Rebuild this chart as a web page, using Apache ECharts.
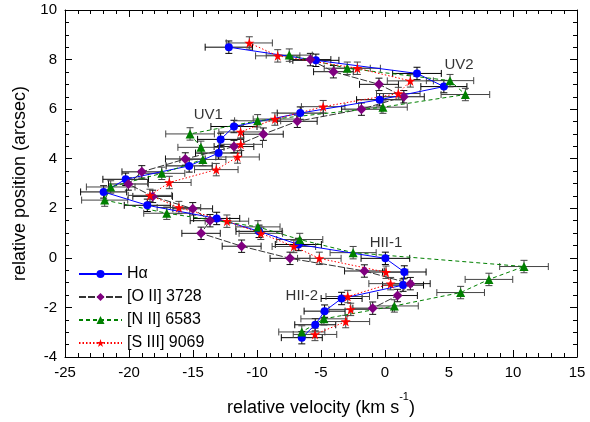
<!DOCTYPE html>
<html><head><meta charset="utf-8">
<script src="https://cdn.jsdelivr.net/npm/echarts@6/dist/echarts.min.js"></script>
<style>html,body{margin:0;padding:0;background:#fff}#c{width:590px;height:422px}</style>
</head><body><div id="c"></div>
<script>
// ---- data ----
const haPos = [8.50, 7.97, 7.44, 6.91, 6.38, 5.84, 5.30, 4.78, 4.23, 3.71, 3.17, 2.66, 2.12, 1.59, 1.07, 0.54, -0.02, -0.57, -1.10, -1.64, -2.15, -2.70, -3.22];
const haVel = [-12.2, -5.4, 2.5, 4.6, -0.42, -6.62, -11.8, -12.84, -13.0, -15.3, -20.26, -21.98, -18.57, -13.15, -9.84, -6.77, 0.03, 1.51, 1.41, -3.39, -4.72, -5.45, -6.5];
const haErr = [1.85, 1.8, 1.9, 1.8, 1.8, 1.8, 1.8, 1.8, 1.8, 1.8, 1.78, 1.8, 1.8, 1.8, 1.8, 1.8, 1.9, 1.7, 1.6, 1.6, 1.6, 1.6, 1.6];

const o2Pos = [8.0, 7.51, 7.0, 6.5, 6.0, 5.51, 4.99, 4.49, 3.99, 3.47, 2.98, 2.48, 1.98, 1.50, 0.99, 0.47, -0.02, -0.53, -1.04, -1.52, -2.03];
const o2Vel = [-5.83, -4.03, -0.47, 1.47, -1.84, -6.85, -9.5, -11.8, -15.6, -19.0, -20.05, -18.15, -15.02, -13.67, -14.37, -11.2, -7.42, -1.61, 1.98, 0.98, -0.96];
const o2Err = [1.6, 1.55, 1.52, 1.6, 1.55, 1.55, 1.55, 1.55, 1.55, 1.55, 1.55, 1.55, 1.55, 1.55, 1.5, 1.52, 1.56, 1.55, 1.55, 1.55, 1.55];

const n2Pos = [8.18, 7.65, 7.15, 6.59, 6.08, 5.53, 5.0, 4.46, 3.97, 3.41, 2.86, 2.33, 1.80, 1.25, 0.74, 0.21, -0.35, -0.87, -1.40, -1.94, -2.46, -2.99];
const n2Vel = [-7.48, -2.95, 5.08, 6.28, -0.16, -9.95, -15.23, -14.38, -14.23, -17.44, -21.43, -21.9, -17.05, -9.93, -6.66, -2.49, 10.86, 8.12, 5.91, 0.73, -4.77, -6.5];
const n2Err = [1.8, 1.8, 1.85, 1.9, 1.9, 1.8, 1.9, 1.8, 1.8, 1.8, 1.9, 1.8, 1.8, 1.73, 1.8, 1.8, 1.9, 1.86, 1.86, 1.87, 1.8, 1.8];

const s3Pos = [8.67, 8.15, 7.65, 7.14, 6.63, 6.10, 5.60, 5.08, 4.58, 4.07, 3.56, 3.04, 2.52, 2.03, 1.48, 0.99, 0.46, -0.02, -0.58, -1.04, -1.56, -2.08, -2.57, -3.09];
const s3Vel = [-10.6, -8.38, -2.16, 1.98, 1.04, -4.83, -8.6, -11.28, -11.27, -11.52, -13.18, -16.85, -18.36, -16.1, -12.35, -9.7, -7.12, -5.13, 0.08, 0.44, -2.91, -2.68, -3.07, -5.47];
const s3Err = [1.8, 1.73, 1.8, 1.8, 1.7, 1.7, 1.7, 1.7, 1.7, 1.7, 1.7, 1.7, 1.7, 1.7, 1.7, 1.7, 1.7, 1.7, 1.7, 1.7, 1.7, 1.7, 1.87, 1.7];

const posErr = 0.25;

const seriesNames = ['H\u03b1', '[O II] 3728', '[N II] 6583', '[S III] 9069'];

const annText = ['UV1', 'UV2', 'HII-1', 'HII-2'];
const annVel = [-13.8, 5.78, 0.08, -6.5];
const annPos = [5.78, 7.78, 0.62, -1.55];

const xTicks = {min: -25, max: 15, step: 5};
const yTicks = {min: -4, max: 10, step: 2};

// ---- build ----
const FONT = 'Liberation Sans, Arial, Helvetica, sans-serif';
const STAR = 'path://M50,0 L61.2,34.5 L97.6,34.5 L68.2,55.9 L79.4,90.5 L50,69.1 L20.6,90.5 L31.8,55.9 L2.4,34.5 L38.8,34.5 Z';

const sets = [
  {name: seriesNames[0], pos: haPos, vel: haVel, err: haErr, color: '#0000ff', line: '#0000ff', type: 'solid', symbol: 'circle', size: 8, barColor: '#000'},
  {name: seriesNames[1], pos: o2Pos, vel: o2Vel, err: o2Err, color: '#800080', line: '#333333', type: [7, 2], symbol: 'diamond', size: 10, barColor: '#111'},
  {name: seriesNames[2], pos: n2Pos, vel: n2Vel, err: n2Err, color: '#008000', line: '#008000', type: [4, 3], symbol: 'triangle', size: 9, barColor: '#444'},
  {name: seriesNames[3], pos: s3Pos, vel: s3Vel, err: s3Err, color: '#ff0000', line: '#ff0000', type: [1.5, 2], symbol: STAR, size: 10, barColor: '#444'}
];

function errRender(color) {
  return function (params, api) {
    const x = api.value(0), y = api.value(1), ex = api.value(2), ey = api.value(3);
    const pL = api.coord([x - ex, y]);
    const pR = api.coord([x + ex, y]);
    const pT = api.coord([x, y + ey]);
    const pB = api.coord([x, y - ey]);
    const c = 3.5;
    const style = {stroke: color, lineWidth: 1, fill: null};
    return {
      type: 'group',
      children: [
        {type: 'line', shape: {x1: pL[0], y1: pL[1], x2: pR[0], y2: pR[1]}, style},
        {type: 'line', shape: {x1: pL[0], y1: pL[1] - c, x2: pL[0], y2: pL[1] + c}, style},
        {type: 'line', shape: {x1: pR[0], y1: pR[1] - c, x2: pR[0], y2: pR[1] + c}, style},
        {type: 'line', shape: {x1: pT[0], y1: pT[1], x2: pB[0], y2: pB[1]}, style},
        {type: 'line', shape: {x1: pT[0] - c, y1: pT[1], x2: pT[0] + c, y2: pT[1]}, style},
        {type: 'line', shape: {x1: pB[0] - c, y1: pB[1], x2: pB[0] + c, y2: pB[1]}, style}
      ]
    };
  };
}

const series = [];
sets.forEach(s => {
  series.push({
    type: 'custom', name: s.name + ' err', renderItem: errRender(s.barColor),
    data: s.pos.map((p, i) => [s.vel[i], p, s.err[i], posErr]),
    z: 2, silent: true, encode: {x: 0, y: 1}
  });
});
sets.forEach(s => {
  series.push({
    type: 'line', name: s.name,
    data: s.pos.map((p, i) => [s.vel[i], p]),
    symbol: s.symbol, symbolSize: s.size, showSymbol: true,
    itemStyle: {color: s.color},
    lineStyle: {color: s.line, width: 1, type: s.type},
    z: 3
  });
});
series.push({
  type: 'scatter', name: 'ann', symbolSize: 0, z: 5, silent: true,
  data: annText.map((t, i) => ({name: t, value: [annVel[i], annPos[i]]})),
  label: {show: true, position: 'inside', formatter: '{b}', color: '#000', fontSize: 15, fontFamily: FONT}
});

function axisCommon(extra) {
  return Object.assign({
    type: 'value',
    axisLine: {show: true, onZero: false, lineStyle: {color: '#000', width: 1}},
    axisTick: {show: true, inside: true, length: 7, lineStyle: {color: '#000', width: 1}},
    minorTick: {show: true, length: 4, lineStyle: {color: '#000', width: 1}},
    splitLine: {show: false},
    axisLabel: {color: '#000', fontSize: 15, fontFamily: FONT}
  }, extra);
}

const chart = echarts.init(document.getElementById('c'), null, {renderer: 'canvas'});
chart.setOption({
  animation: false,
  backgroundColor: '#fff',
  grid: {left: 65, top: 10, right: 13, bottom: 55, containLabel: false},
  xAxis: [
    axisCommon({min: xTicks.min, max: xTicks.max, interval: xTicks.step, position: 'bottom',
      minorTick: {show: true, splitNumber: 5, length: 4, lineStyle: {color: '#000'}},
      axisLabel: {color: '#000', fontSize: 15, fontFamily: FONT, margin: 8},
      name: '{a|relative velocity (km s}{sup|-1}{a|)}', nameLocation: 'middle', nameGap: 34,
      nameTextStyle: {color: '#000', fontSize: 18, fontFamily: FONT,
        rich: {
          a: {fontSize: 18, fontFamily: FONT, color: '#000', verticalAlign: 'bottom', lineHeight: 26},
          sup: {fontSize: 11, fontFamily: FONT, color: '#000', verticalAlign: 'top', lineHeight: 26}
        }}}),
    axisCommon({min: xTicks.min, max: xTicks.max, interval: xTicks.step, position: 'top',
      minorTick: {show: true, splitNumber: 5, length: 4, lineStyle: {color: '#000'}},
      axisLabel: {show: false}})
  ],
  yAxis: [
    axisCommon({min: yTicks.min, max: yTicks.max, interval: yTicks.step, position: 'left',
      minorTick: {show: true, splitNumber: 4, length: 4, lineStyle: {color: '#000'}},
      axisLabel: {color: '#000', fontSize: 15, fontFamily: FONT, margin: 8},
      name: 'relative position (arcsec)', nameLocation: 'middle', nameGap: 32,
      nameTextStyle: {color: '#000', fontSize: 18, fontFamily: FONT}}),
    axisCommon({min: yTicks.min, max: yTicks.max, interval: yTicks.step, position: 'right',
      minorTick: {show: true, splitNumber: 4, length: 4, lineStyle: {color: '#000'}},
      axisLabel: {show: false}})
  ],
  legend: {
    data: seriesNames, orient: 'vertical', left: 73, top: 261,
    itemWidth: 43, itemHeight: 10, itemGap: 7,
    textStyle: {color: '#000', fontSize: 16, fontFamily: FONT},
    backgroundColor: 'transparent'
  },
  series: series
});
</script></body></html>
